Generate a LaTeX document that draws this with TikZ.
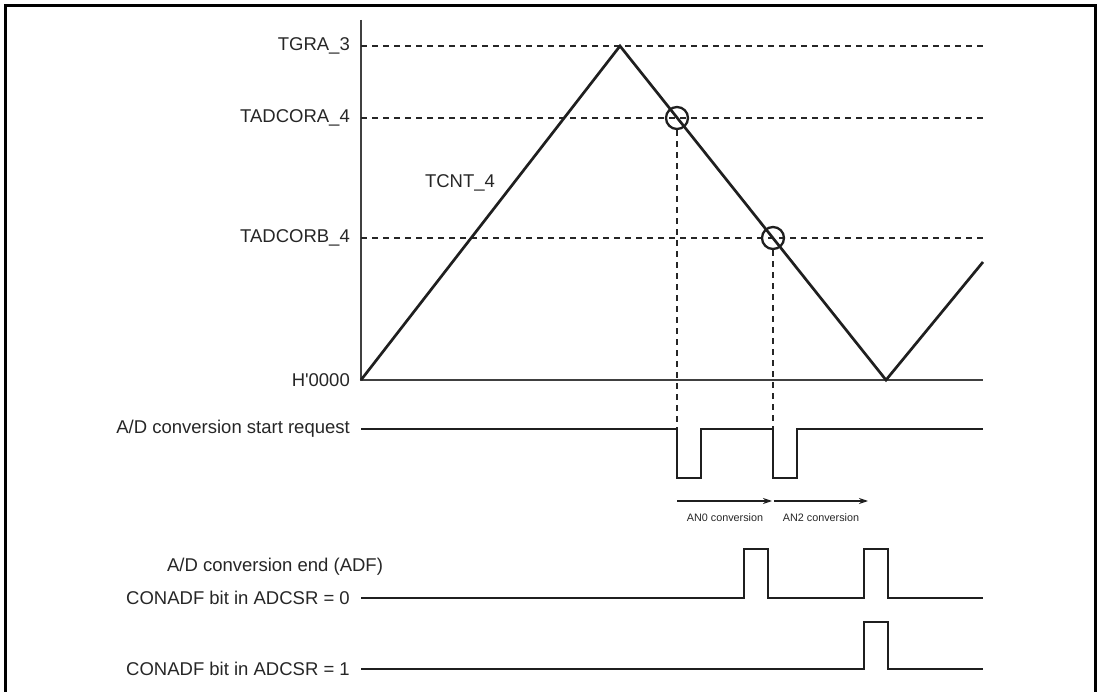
\documentclass[tikz,border=0pt]{standalone}
\usepackage{fontspec}
\setmainfont{Liberation Sans}[Ligatures=TeXOff]
\usetikzlibrary{arrows.meta}
\begin{document}
\begin{tikzpicture}[x=1pt,y=-1pt,
  lbl/.style={anchor=east,inner sep=0pt,font=\fontsize{18.5}{22}\selectfont,text=black!85},
  small/.style={inner sep=0pt,font=\fontsize{10.8}{13}\selectfont,text=black!85},
  axisline/.style={line width=1.4pt,draw=black!75},
  guide/.style={line width=1.2pt,draw=black!85,dash pattern=on 6pt off 5pt},
  wave/.style={line width=2.7pt,draw=black!88,line join=miter},
  marker/.style={circle,draw=black!88,line width=2.3pt,minimum size=22pt,inner sep=0pt},
  conv/.style={line width=1.2pt,draw=black!88,-{Stealth[length=9pt,width=6pt]}}]
\useasboundingbox (0,0) rectangle (1101,692);
\draw[line width=3pt] (5,700) -- (5,6) -- (1095,6) -- (1095,700);
% axes
\coordinate (O) at (361,380);
\coordinate (Ytop) at (361,20);
\coordinate (Xend) at (983,380);
\draw[axisline] (Ytop) -- (O) -- (Xend);
% level labels
\node[lbl] (tgra) at (350,46) {TGRA\_3};
\node[lbl] (tcora) at (350,118) {TADCORA\_4};
\node[lbl] (tcorb) at (350,238) {TADCORB\_4};
\node[lbl] (zero) at (350,380) {H'0000};
\coordinate (la) at (361,46); \coordinate (lae) at (983,46);
\coordinate (lb) at (361,118); \coordinate (lbe) at (983,118);
\coordinate (lc) at (361,238); \coordinate (lce) at (983,238);
\draw[guide] (la) -- (lae);
\draw[guide] (lb) -- (lbe);
\draw[guide] (lc) -- (lce);
% counter
\node[inner sep=0pt,font=\fontsize{18.5}{22}\selectfont,text=black!85] (tcnt) at (460,183) {TCNT\_4};
\coordinate (peak) at (620,46);
\coordinate (valley) at (886,380);
\coordinate (rise) at (983,262);
\draw[wave] (O) -- (peak) -- (valley) -- (rise);
\node[marker] (ca) at (677,118) {};
\node[marker] (cb) at (773,238) {};
% start request
\node[lbl] (req) at (350,429) {A/D conversion start request};
\coordinate (r0) at (361,429);
\coordinate (ra) at (677,429);
\coordinate (rb) at (773,429);
\draw[guide] (ca.south) -- (ra);
\draw[guide] (cb.south) -- (rb);
\draw[wave] (r0) -- (ra) -- (677,478) -- (701,478) -- (701,429) -- (rb) -- (773,478) -- (797,478) -- (797,429) -- (983,429);
% conversions
\coordinate (a0s) at (677,501); \coordinate (a0e) at (772,501);
\coordinate (a2s) at (774,501); \coordinate (a2e) at (868,501);
\draw[conv] (a0s) -- (a0e);
\draw[conv] (a2s) -- (a2e);
\node[small] (an0) at (725,518) {AN0 conversion};
\node[small] (an2) at (821,518) {AN2 conversion};
% ADF
\node[inner sep=0pt,font=\fontsize{18.5}{22}\selectfont,text=black!85] (adf) at (275,567) {A/D conversion end (ADF)};
\node[lbl] (c0) at (350,598) {CONADF bit in ADCSR = 0};
\coordinate (s0) at (361,598);
\draw[wave] (s0) -- (744,598) -- (744,549) -- (768,549) -- (768,598) -- (864,598) -- (864,549) -- (888,549) -- (888,598) -- (983,598);
\node[lbl] (c1) at (350,669) {CONADF bit in ADCSR = 1};
\coordinate (s1) at (361,669);
\draw[wave] (s1) -- (864,669) -- (864,622) -- (888,622) -- (888,669) -- (983,669);
\end{tikzpicture}
\end{document}
